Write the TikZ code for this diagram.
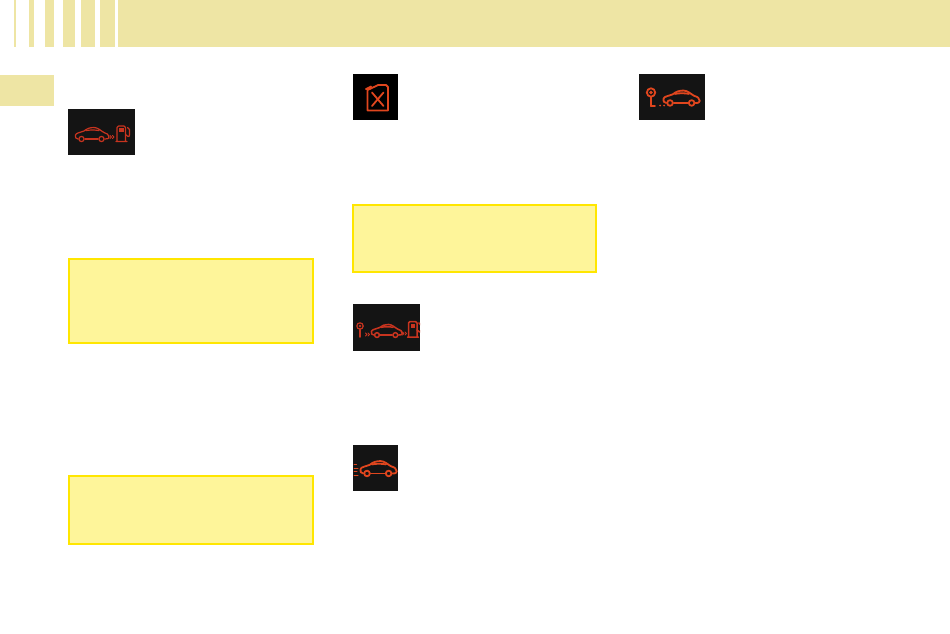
\documentclass[tikz,border=0pt]{standalone}
\definecolor{band}{HTML}{EEE5A4}
\definecolor{noteFill}{HTML}{FEF59A}
\definecolor{noteEdge}{HTML}{FFE600}
\definecolor{iconBg}{HTML}{141414}
\definecolor{iconRed}{HTML}{C8341F}
\definecolor{iconOrange}{HTML}{E0461E}
\tikzset{
  bandbox/.style={fill=band,draw=none},
  notebox/.style={fill=noteFill,draw=noteEdge,line width=2pt},
  iconbox/.style={fill=iconBg,draw=none},
  glyph/.style={draw=iconRed,line width=1.2pt,line cap=round,line join=round},
  glyphor/.style={draw=iconOrange,line width=1.8pt,line cap=round,line join=round},
  pics/carshape/.style={code={
    \draw[pic actions] (3,12) .. controls (0.5,12) and (0,10) .. (0.5,8) .. controls (1,6) and (5,5.5) .. (9,4)
       .. controls (12,1.5) and (15,0.5) .. (19,0.5) .. controls (23,0.5) and (26,4) .. (29,5.5)
       .. controls (32,6) and (34,8) .. (34,10) .. controls (34,11.5) and (33,12) .. (30,12);
    \draw[pic actions] (10,12) -- (23,12);
    \draw[pic actions] (6.5,12) circle[radius=2.6];
    \draw[pic actions] (26.5,12) circle[radius=2.6];
    \draw[pic actions] (11,3.6) .. controls (15,2.8) and (20,2.8) .. (24,3.6);
  }},
  pics/pumpshape/.style={code={
    \draw[pic actions] (0,16) -- (1,16) -- (1,2) .. controls (1,1) and (1.5,0.5) .. (2.5,0.5) -- (8,0.5) .. controls (9,0.5) and (9.5,1) .. (9.5,2) -- (9.5,16) -- (11,16) -- cycle;
    \fill[iconRed] (3,2.5) rectangle (7.5,6.5);
    \draw[pic actions] (9.5,9) -- (12,11) .. controls (13.5,11.5) and (13.5,10) .. (13.5,9) -- (13.5,4) -- (11.5,2);
  }},
  pics/chevrons/.style={code={
    \draw[pic actions] (0,0) -- (1.5,1.5) -- (0,3);
    \draw[pic actions] (2.5,0) -- (4,1.5) -- (2.5,3);
  }}
}
\begin{document}
\begin{tikzpicture}[x=1pt,y=-1pt]
\useasboundingbox (0,0) rectangle (950,633);
% header
\fill[bandbox] (14,0) rectangle (16,47);
\fill[bandbox] (29,0) rectangle (34,47);
\fill[bandbox] (45,0) rectangle (54,47);
\fill[bandbox] (63,0) rectangle (75,47);
\fill[bandbox] (81,0) rectangle (95,47);
\fill[bandbox] (100,0) rectangle (115,47);
\fill[bandbox] (118,0) rectangle (950,47);
\fill[bandbox] (0,75) rectangle (54,106);
% notes
\path[notebox] (69,258.5) rectangle (312.5,342.5);
\path[notebox] (69,476) rectangle (312.5,543.5);
\path[notebox] (352.5,205) rectangle (596,271.5);
% icon 1
\fill[iconbox] (68,109) rectangle (135,155);
\pic[glyph] at (75,127) {carshape};
\pic[glyph,line width=0.8pt] at (110,135.5) {chevrons};
\pic[glyph] at (116,125.5) {pumpshape};
% icon 2: jerrycan
\fill[black] (353,74) rectangle (398,120);
\draw[glyphor] (367.5,90) -- (374,87) -- (378,85) -- (386,85) -- (388,87) -- (388,110.5) -- (367.5,110.5) -- cycle;
\draw[glyphor,fill=iconOrange] (366,89) -- (371,86.5) -- (370,89) -- cycle;
\draw[glyphor] (372,92.5) -- (383.5,106);
\draw[glyphor] (383.5,92.5) -- (372,106);
% icon 3
\fill[iconbox] (353,304) rectangle (420,351);
\draw[glyph] (360,326) circle[radius=3.2];
\fill[iconRed] (360,326) circle[radius=1.3];
\draw[glyph,line width=1.6pt] (360,329) -- (360,337);
\pic[glyph,line width=0.8pt] at (365.5,333) {chevrons};
\pic[glyph,line width=1.5pt,scale=0.92] at (371,324) {carshape};
\pic[glyph,line width=0.8pt] at (402.5,332) {chevrons};
\begin{scope}
\clip (353,304) rectangle (420,351);
\pic[glyph,line width=1.5pt] at (407.5,321) {pumpshape};
\end{scope}
% icon 4
\fill[iconbox] (353,445) rectangle (398,491);
\pic[glyphor,scale=1.08] at (360,460.5) {carshape};
\draw[glyphor,line width=1pt] (354,464.5) -- (356.5,464.5);
\draw[glyphor,line width=1pt] (354,468) -- (358,468);
\draw[glyphor,line width=1pt] (354,471.5) -- (357,471.5);
\draw[glyphor,line width=1pt] (354,475) -- (358,475);
% icon 5
\fill[iconbox] (639,74) rectangle (705,120);
\draw[glyphor] (651,92.5) circle[radius=4.2];
\fill[iconOrange] (651,92.5) circle[radius=1.8];
\draw[glyphor,line width=2pt] (651,97) -- (651,106);
\draw[glyphor] (651,106) -- (655,106);
\fill[iconOrange] (660,105.5) circle[radius=1];
\fill[iconOrange] (664,105.5) circle[radius=1];
\pic[glyphor,scale=1.08] at (663,90) {carshape};
\end{tikzpicture}
\end{document}
